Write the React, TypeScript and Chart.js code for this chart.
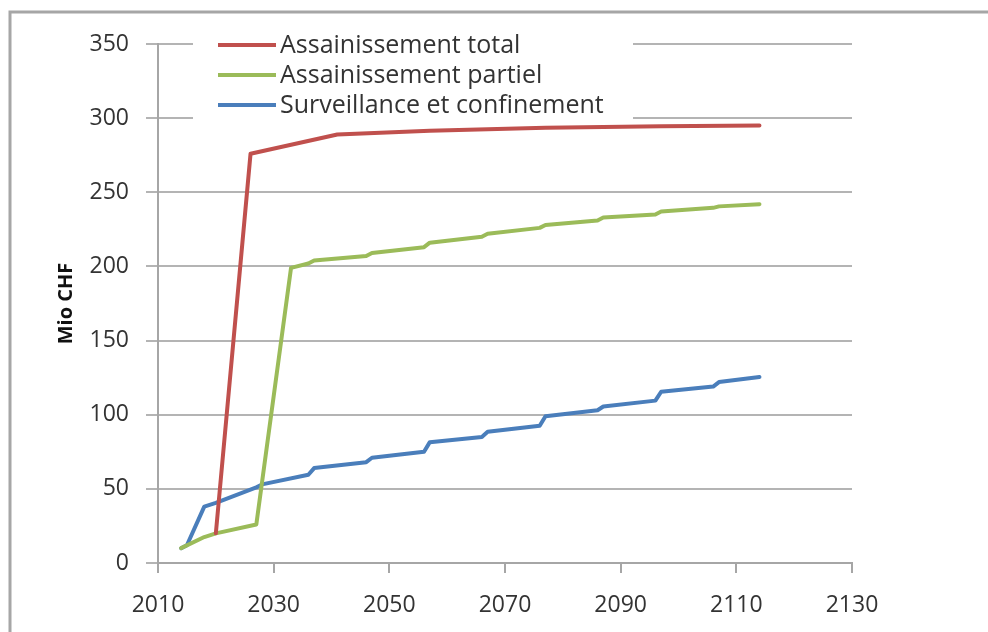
import { useEffect, useRef } from "react";
import { Chart, registerables } from "chart.js";

Chart.register(...registerables);

const xTicks = [2010, 2030, 2050, 2070, 2090, 2110, 2130];
const yTicks = [0, 50, 100, 150, 200, 250, 300, 350];
const seriesNames = ["Assainissement total", "Assainissement partiel", "Surveillance et confinement"];
const seriesColors = ["#c0504d", "#9bbb59", "#4a7ebb"];

const totalYears = [2020, 2026, 2041, 2057, 2077, 2097, 2114];
const totalValues = [20, 276, 289, 291.5, 293.5, 294.5, 295];

const partialYears = [2014, 2018, 2020, 2027, 2033, 2036, 2037, 2046, 2047, 2056, 2057, 2066, 2067, 2076, 2077, 2086, 2087, 2096, 2097, 2106, 2107, 2114];
const partialValues = [10, 17.5, 20, 26, 199, 202, 204, 207, 209, 213, 216, 220, 222, 226, 228, 231, 233, 235, 237, 239.5, 240.5, 242];

const survYears = [2014, 2015, 2018, 2020, 2027, 2028, 2036, 2037, 2046, 2047, 2056, 2057, 2066, 2067, 2076, 2077, 2086, 2087, 2096, 2097, 2106, 2107, 2114];
const survValues = [10, 12, 38, 40.5, 51, 53, 59.5, 64, 68, 71, 75, 81.5, 85, 88.5, 92.5, 99, 103, 105.5, 109.5, 115.5, 119, 122, 125.5];

const toPoints = (xs: number[], ys: number[]) => xs.map((x, i) => ({ x, y: ys[i] }));

const FONT = "'Open Sans', sans-serif";

const framePlugin = {
  id: "frame",
  beforeDraw(chart: any) {
    const ctx = chart.ctx;
    ctx.save();
    ctx.fillStyle = "#ffffff";
    ctx.fillRect(0, 0, chart.width, chart.height);
    ctx.strokeStyle = "#a6a6a6";
    ctx.lineWidth = 3;
    ctx.beginPath();
    ctx.moveTo(10, chart.height);
    ctx.lineTo(10, 12);
    ctx.lineTo(chart.width, 12);
    ctx.stroke();
    ctx.restore();
  },
};

const legendPlugin = {
  id: "customLegend",
  afterDraw(chart: any) {
    const ctx = chart.ctx;
    ctx.save();
    ctx.fillStyle = "#ffffff";
    ctx.fillRect(193, 30, 440, 92);
    ctx.font = `25px ${FONT}`;
    ctx.textBaseline = "middle";
    chart.data.datasets.forEach((ds: any, i: number) => {
      const y = 45 + i * 30;
      ctx.strokeStyle = ds.borderColor;
      ctx.lineWidth = 4;
      ctx.beginPath();
      ctx.moveTo(218, y);
      ctx.lineTo(276, y);
      ctx.stroke();
      ctx.fillStyle = "#333333";
      ctx.fillText(ds.label, 280, y + 1);
    });
    ctx.restore();
  },
};

export default function App() {
  const ref = useRef<HTMLCanvasElement | null>(null);

  useEffect(() => {
    if (!ref.current) return;
    const chart = new Chart(ref.current, {
      type: "line",
      data: {
        datasets: [
          { label: seriesNames[0], data: toPoints(totalYears, totalValues), borderColor: seriesColors[0] },
          { label: seriesNames[1], data: toPoints(partialYears, partialValues), borderColor: seriesColors[1] },
          { label: seriesNames[2], data: toPoints(survYears, survValues), borderColor: seriesColors[2] },
        ].map((d) => ({ ...d, borderWidth: 4, pointRadius: 0, tension: 0, fill: false, borderJoinStyle: "round" as const, borderCapStyle: "round" as const })),
      },
      options: {
        animation: false,
        responsive: false,
        maintainAspectRatio: false,
        layout: { padding: { left: 0, right: 136, top: 44, bottom: 0 } },
        plugins: { legend: { display: false }, tooltip: { enabled: false } },
        scales: {
          x: {
            type: "linear",
            min: 2010,
            max: 2130,
            afterBuildTicks: (s: any) => { s.ticks = xTicks.map((v) => ({ value: v })); },
            afterFit: (s: any) => { s.height = 69; },
            ticks: { color: "#333333", font: { family: FONT, size: 23 }, padding: 19, callback: (v: any) => String(v) },
            grid: { drawOnChartArea: false, drawTicks: true, tickLength: 10, color: "#a6a6a6", lineWidth: 2 },
            border: { color: "#a6a6a6", width: 2 },
          },
          y: {
            type: "linear",
            min: 0,
            max: 350,
            afterBuildTicks: (s: any) => { s.ticks = yTicks.map((v) => ({ value: v })); },
            afterFit: (s: any) => { s.width = 158; },
            ticks: { color: "#333333", font: { family: FONT, size: 23 }, padding: 17 },
            grid: { color: "#b4b4b4", lineWidth: 2, tickLength: 12 },
            border: { color: "#a6a6a6", width: 2 },
            title: { display: true, text: "Mio CHF", color: "#111111", font: { family: FONT, size: 20, weight: "bold" }, padding: { top: 54, bottom: 0 } },
          },
        },
      },
      plugins: [framePlugin, legendPlugin],
    });
    return () => chart.destroy();
  }, []);

  return (
    <div style={{ position: "absolute", left: 0, top: 0, width: 988, height: 632 }}>
      <canvas ref={ref} width={988} height={632} style={{ display: "block", width: 988, height: 632 }} />
    </div>
  );
}
